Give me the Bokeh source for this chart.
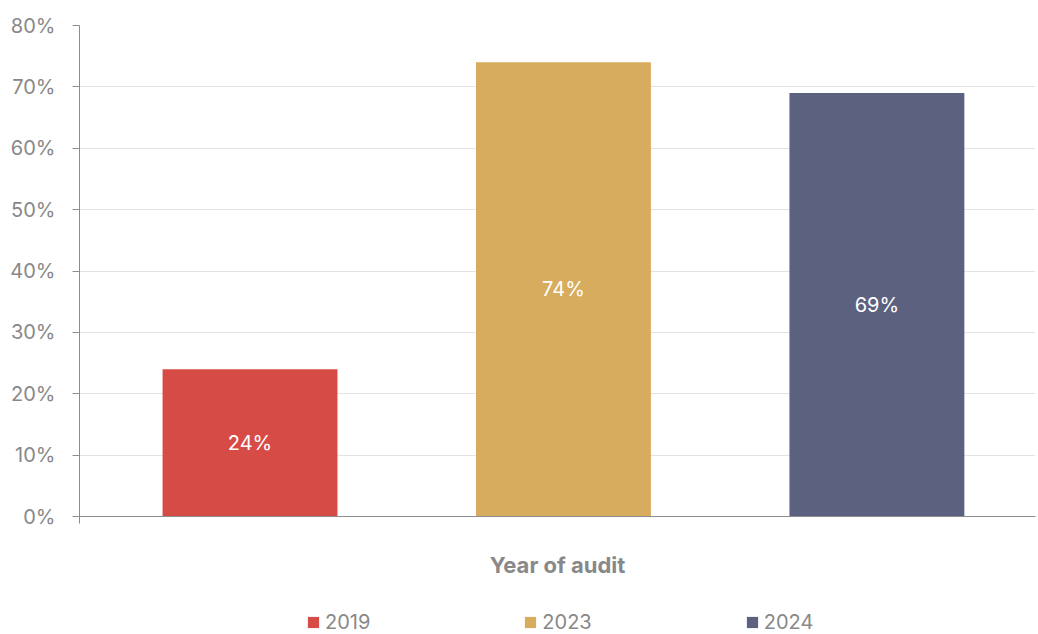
from bokeh.plotting import figure
from bokeh.layouts import column
from bokeh.models import (ColumnDataSource, Legend, LegendItem, FixedTicker,
                          PrintfTickFormatter, Range1d)
from bokeh.core.properties import value
from bokeh.embed import file_html
from bokeh.resources import INLINE

years = ["2019", "2023", "2024"]
shares = [24, 74, 69]
colors = ["#D74B46", "#D7AC5E", "#5B617F"]
y_ticks = [0, 10, 20, 30, 40, 50, 60, 70, 80]

xs = list(range(len(years)))
labels = [f"{v}%" for v in shares]
src = ColumnDataSource(dict(x=xs, top=shares, color=colors, year=years,
                            mid=[v / 2 for v in shares], lab=labels))

FONT = "Inter"
GREY = "#888888"
AXIS = "#8c8c94"

p = figure(width=1038, height=600, output_backend="svg", toolbar_location=None,
           x_range=Range1d(-0.544, 2.506), y_range=Range1d(0, 80),
           min_border_left=79, min_border_top=25, min_border_right=3,
           min_border_bottom=84)
p.outline_line_color = None

r = p.vbar(x="x", top="top", width=0.558, fill_color="color", line_color=None, source=src)
p.text(x="x", y="mid", text="lab", source=src, text_color="white",
       text_align="center", text_baseline="middle", text_font=value(FONT),
       text_font_size="20px")

# y axis
p.yaxis.ticker = FixedTicker(ticks=y_ticks)
p.yaxis.formatter = PrintfTickFormatter(format="%d%%")
p.yaxis.major_label_text_font = FONT
p.yaxis.major_label_text_font_size = "20px"
p.yaxis.major_label_text_color = GREY
p.yaxis.axis_line_color = AXIS
p.yaxis.major_tick_line_color = AXIS
p.yaxis.major_tick_out = 7
p.yaxis.major_tick_in = 0
p.yaxis.minor_tick_line_color = None
p.yaxis.major_label_standoff = 17

# x axis
p.xaxis.ticker = FixedTicker(ticks=[-0.544])
p.xaxis.major_label_overrides = {-0.544: ""}
p.xaxis.major_label_text_font_size = "1px"
p.xaxis.axis_line_color = AXIS
p.xaxis.major_tick_line_color = AXIS
p.xaxis.major_tick_out = 7
p.xaxis.major_tick_in = 0
p.xaxis.minor_tick_line_color = None
p.xaxis.axis_label = "Year of audit"
p.xaxis.axis_label_text_font = FONT
p.xaxis.axis_label_text_font_style = "bold"
p.xaxis.axis_label_text_font_size = "22px"
p.xaxis.axis_label_text_color = GREY
p.xaxis.axis_label_standoff = 28

p.xgrid.grid_line_color = None
p.ygrid.ticker = FixedTicker(ticks=y_ticks)
p.ygrid.grid_line_color = "#e3e3e3"

# legend strip below the chart
leg = figure(width=1038, height=34, output_backend="svg", toolbar_location=None,
             x_range=Range1d(1000, 1001), y_range=Range1d(1000, 1001),
             x_axis_location=None, y_axis_location=None,
             min_border_left=0, min_border_top=0, min_border_right=0,
             min_border_bottom=0)
leg.grid.visible = False
leg.outline_line_color = None
lr = leg.vbar(x="x", top="top", width=0.558, fill_color="color", line_color=None, source=src)
lr.visible = False

items = [LegendItem(label=y, renderers=[lr], index=i) for i, y in enumerate(years)]
legend = Legend(items=items, orientation="horizontal", location=(227, 0),
                spacing=153, glyph_width=14, glyph_height=14, label_standoff=5,
                label_text_font=FONT, label_text_font_size="20px",
                label_text_color=GREY, border_line_color=None,
                background_fill_alpha=0, margin=0, padding=0)
leg.add_layout(legend, "center")

layout = column(p, leg, spacing=0)
open("out.html", "w").write(file_html(layout, INLINE))
